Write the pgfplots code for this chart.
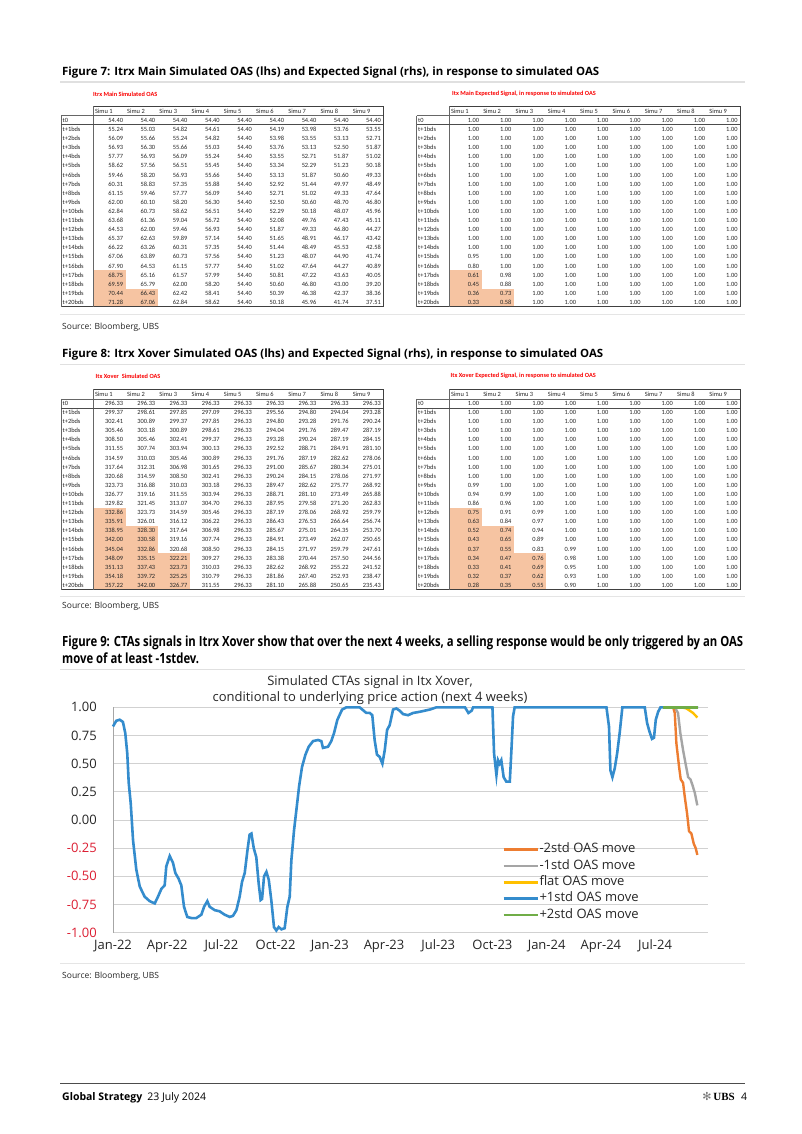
\documentclass[border=0pt]{standalone}
\usepackage{pgfplots}
\pgfplotsset{compat=1.18}
\usepackage{graphicx}
\usepackage{fontspec}
\setmainfont{Open Sans}
\newfontfamily\tabfont{Carlito}
\newfontfamily\symfont{DejaVu Sans}
\newfontfamily\serfont{Liberation Serif}
\definecolor{uBlue}{RGB}{52,140,205}
\definecolor{uOrange}{RGB}{237,125,49}
\definecolor{uGray}{RGB}{165,165,165}
\definecolor{uYellow}{RGB}{255,192,0}
\definecolor{uGreen}{RGB}{112,173,71}
\definecolor{uRed}{RGB}{220,30,50}
\definecolor{hl}{RGB}{246,196,162}
\definecolor{subRed}{RGB}{250,0,0}

\newcounter{rowi}
\tikzset{tabtxt/.style={font=\tabfont\fontsize{6.4}{7}\selectfont, inner sep=0pt, text height=4.3pt, text depth=0pt, text=black!85}}
\newcommand{\trow}[2]{%
  \node[tabtxt, anchor=west] at ({\TLx pt+1.5pt},{-\TTz pt-\therowi*9.1pt}) {#1};%
  \foreach \vv [count=\ci] in {#2} {\node[tabtxt, anchor=east] at ({\TDx pt+\ci*\TCw pt-2.3pt},{-\TTz pt-\therowi*9.1pt}) {\vv};}%
  \stepcounter{rowi}}
\newcommand{\hlcell}[3]{\fill[hl] ({\TDx pt+(#1-1)*\TCw pt},{-\TTz pt-#2*9.1pt+4.55pt}) rectangle ({\TDx pt+#1*\TCw pt},{-\TTz pt-#3*9.1pt-4.55pt});}
\newcommand{\tableframe}{%
  \draw[black!75, line width=1pt] ({\TDx pt},{-\TTz pt+14pt}) -- ({\TDx pt+9*\TCw pt},{-\TTz pt+14pt}) -- ({\TDx pt+9*\TCw pt},{-\TTz pt-186.55pt}) -- ({\TLx pt},{-\TTz pt-186.55pt});
  \draw[black!60, line width=0.5pt] ({\TDx pt},{-\TTz pt+14pt}) -- ({\TDx pt},{-\TTz pt-186.55pt});
  \draw[black!60, line width=0.5pt] ({\TLx pt},{-\TTz pt+4.55pt}) -- ({\TLx pt},{-\TTz pt-186.55pt});
  \draw[black!60, line width=0.5pt] ({\TLx pt},{-\TTz pt+4.55pt}) -- ({\TDx pt+9*\TCw pt},{-\TTz pt+4.55pt});
  \draw[black!70, line width=0.7pt] ({\TLx pt},{-\TTz pt-4.55pt}) -- ({\TDx pt+9*\TCw pt},{-\TTz pt-4.55pt});
  \foreach \ci in {1,...,9} {\node[tabtxt, anchor=west] at ({\TDx pt+(\ci-1)*\TCw pt+1.5pt},{-\TTz pt+9pt}) {Simu \ci};}
  \setcounter{rowi}{0}}

\newlength\tw
\newcommand{\figninea}{Figure 9: CTAs signals in Itrx Xover show that over the next 4 weeks, a selling response would be only triggered by an OAS}

\begin{document}
\settowidth\tw{\fontsize{14}{16}\selectfont\bfseries \figninea}%
\pgfmathsetmacro\sx{681/\tw}%
\begin{tikzpicture}
\fill[white, use as bounding box] (0,0) rectangle (802pt,-1134pt);

% ---------- Figure 7 ----------
\node[anchor=base west, inner sep=0pt] at (62pt,-75.5pt) {\resizebox{537pt}{!}{\bfseries Figure 7: Itrx Main Simulated OAS (lhs) and Expected Signal (rhs), in response to simulated OAS}};
\draw[black!12, line width=1.2pt] (60pt,-82pt) -- (745pt,-82pt);
\node[anchor=west, inner sep=0pt, font=\tabfont\bfseries\fontsize{6.3}{7}\selectfont, text=subRed] at (93pt,-94pt) {Itrx Main Simulated OAS};
\node[anchor=west, inner sep=0pt, font=\tabfont\bfseries\fontsize{6.3}{7}\selectfont, text=subRed] at (452pt,-94pt) {Itx Main Expected Signal, in response to simulated OAS};

\def\TLx{61}\def\TDx{93.3}\def\TCw{32.22}\def\TTz{120.3}
\hlcell{1}{17}{20}\hlcell{2}{19}{20}
\tableframe
\trow{t0}{54.40,54.40,54.40,54.40,54.40,54.40,54.40,54.40,54.40}
\trow{t+1bds}{55.24,55.03,54.82,54.61,54.40,54.19,53.98,53.76,53.55}
\trow{t+2bds}{56.09,55.66,55.24,54.82,54.40,53.98,53.55,53.13,52.71}
\trow{t+3bds}{56.93,56.30,55.66,55.03,54.40,53.76,53.13,52.50,51.87}
\trow{t+4bds}{57.77,56.93,56.09,55.24,54.40,53.55,52.71,51.87,51.02}
\trow{t+5bds}{58.62,57.56,56.51,55.45,54.40,53.34,52.29,51.23,50.18}
\trow{t+6bds}{59.46,58.20,56.93,55.66,54.40,53.13,51.87,50.60,49.33}
\trow{t+7bds}{60.31,58.83,57.35,55.88,54.40,52.92,51.44,49.97,48.49}
\trow{t+8bds}{61.15,59.46,57.77,56.09,54.40,52.71,51.02,49.33,47.64}
\trow{t+9bds}{62.00,60.10,58.20,56.30,54.40,52.50,50.60,48.70,46.80}
\trow{t+10bds}{62.84,60.73,58.62,56.51,54.40,52.29,50.18,48.07,45.96}
\trow{t+11bds}{63.68,61.36,59.04,56.72,54.40,52.08,49.76,47.43,45.11}
\trow{t+12bds}{64.53,62.00,59.46,56.93,54.40,51.87,49.33,46.80,44.27}
\trow{t+13bds}{65.37,62.63,59.89,57.14,54.40,51.65,48.91,46.17,43.42}
\trow{t+14bds}{66.22,63.26,60.31,57.35,54.40,51.44,48.49,45.53,42.58}
\trow{t+15bds}{67.06,63.89,60.73,57.56,54.40,51.23,48.07,44.90,41.74}
\trow{t+16bds}{67.90,64.53,61.15,57.77,54.40,51.02,47.64,44.27,40.89}
\trow{t+17bds}{68.75,65.16,61.57,57.99,54.40,50.81,47.22,43.63,40.05}
\trow{t+18bds}{69.59,65.79,62.00,58.20,54.40,50.60,46.80,43.00,39.20}
\trow{t+19bds}{70.44,66.43,62.42,58.41,54.40,50.39,46.38,42.37,38.36}
\trow{t+20bds}{71.28,67.06,62.84,58.62,54.40,50.18,45.96,41.74,37.51}

\def\TLx{416.5}\def\TDx{449.3}\def\TCw{32.3}\def\TTz{120.3}
\hlcell{1}{17}{20}\hlcell{2}{19}{20}
\tableframe
\trow{t0}{1.00,1.00,1.00,1.00,1.00,1.00,1.00,1.00,1.00}
\trow{t+1bds}{1.00,1.00,1.00,1.00,1.00,1.00,1.00,1.00,1.00}
\trow{t+2bds}{1.00,1.00,1.00,1.00,1.00,1.00,1.00,1.00,1.00}
\trow{t+3bds}{1.00,1.00,1.00,1.00,1.00,1.00,1.00,1.00,1.00}
\trow{t+4bds}{1.00,1.00,1.00,1.00,1.00,1.00,1.00,1.00,1.00}
\trow{t+5bds}{1.00,1.00,1.00,1.00,1.00,1.00,1.00,1.00,1.00}
\trow{t+6bds}{1.00,1.00,1.00,1.00,1.00,1.00,1.00,1.00,1.00}
\trow{t+7bds}{1.00,1.00,1.00,1.00,1.00,1.00,1.00,1.00,1.00}
\trow{t+8bds}{1.00,1.00,1.00,1.00,1.00,1.00,1.00,1.00,1.00}
\trow{t+9bds}{1.00,1.00,1.00,1.00,1.00,1.00,1.00,1.00,1.00}
\trow{t+10bds}{1.00,1.00,1.00,1.00,1.00,1.00,1.00,1.00,1.00}
\trow{t+11bds}{1.00,1.00,1.00,1.00,1.00,1.00,1.00,1.00,1.00}
\trow{t+12bds}{1.00,1.00,1.00,1.00,1.00,1.00,1.00,1.00,1.00}
\trow{t+13bds}{1.00,1.00,1.00,1.00,1.00,1.00,1.00,1.00,1.00}
\trow{t+14bds}{1.00,1.00,1.00,1.00,1.00,1.00,1.00,1.00,1.00}
\trow{t+15bds}{0.95,1.00,1.00,1.00,1.00,1.00,1.00,1.00,1.00}
\trow{t+16bds}{0.80,1.00,1.00,1.00,1.00,1.00,1.00,1.00,1.00}
\trow{t+17bds}{0.61,0.98,1.00,1.00,1.00,1.00,1.00,1.00,1.00}
\trow{t+18bds}{0.45,0.88,1.00,1.00,1.00,1.00,1.00,1.00,1.00}
\trow{t+19bds}{0.36,0.73,1.00,1.00,1.00,1.00,1.00,1.00,1.00}
\trow{t+20bds}{0.33,0.58,1.00,1.00,1.00,1.00,1.00,1.00,1.00}

\draw[black!10, line width=0.8pt] (60pt,-314pt) -- (745pt,-314pt);
\node[anchor=base west, inner sep=0pt, font=\fontsize{8.5}{10}\selectfont, text=black!85] at (62pt,-329pt) {Source: Bloomberg, UBS};

% ---------- Figure 8 ----------
\node[anchor=base west, inner sep=0pt] at (62pt,-357.5pt) {\resizebox{541pt}{!}{\bfseries Figure 8: Itrx Xover Simulated OAS (lhs) and Expected Signal (rhs), in response to simulated OAS}};
\draw[black!12, line width=1.2pt] (60pt,-364.5pt) -- (745pt,-364.5pt);
\node[anchor=west, inner sep=0pt, font=\tabfont\bfseries\fontsize{6.3}{7}\selectfont, text=subRed] at (95.5pt,-376pt) {Itx Xover\ \ Simulated OAS};
\node[anchor=west, inner sep=0pt, font=\tabfont\bfseries\fontsize{6.3}{7}\selectfont, text=subRed] at (450.5pt,-376pt) {Itx Xover Expected Signal, in response to simulated OAS};

\def\TLx{61}\def\TDx{93.3}\def\TCw{32.22}\def\TTz{403.3}
\hlcell{1}{12}{20}\hlcell{2}{14}{20}\hlcell{3}{17}{20}
\tableframe
\trow{t0}{296.33,296.33,296.33,296.33,296.33,296.33,296.33,296.33,296.33}
\trow{t+1bds}{299.37,298.61,297.85,297.09,296.33,295.56,294.80,294.04,293.28}
\trow{t+2bds}{302.41,300.89,299.37,297.85,296.33,294.80,293.28,291.76,290.24}
\trow{t+3bds}{305.46,303.18,300.89,298.61,296.33,294.04,291.76,289.47,287.19}
\trow{t+4bds}{308.50,305.46,302.41,299.37,296.33,293.28,290.24,287.19,284.15}
\trow{t+5bds}{311.55,307.74,303.94,300.13,296.33,292.52,288.71,284.91,281.10}
\trow{t+6bds}{314.59,310.03,305.46,300.89,296.33,291.76,287.19,282.62,278.06}
\trow{t+7bds}{317.64,312.31,306.98,301.65,296.33,291.00,285.67,280.34,275.01}
\trow{t+8bds}{320.68,314.59,308.50,302.41,296.33,290.24,284.15,278.06,271.97}
\trow{t+9bds}{323.73,316.88,310.03,303.18,296.33,289.47,282.62,275.77,268.92}
\trow{t+10bds}{326.77,319.16,311.55,303.94,296.33,288.71,281.10,273.49,265.88}
\trow{t+11bds}{329.82,321.45,313.07,304.70,296.33,287.95,279.58,271.20,262.83}
\trow{t+12bds}{332.86,323.73,314.59,305.46,296.33,287.19,278.06,268.92,259.79}
\trow{t+13bds}{335.91,326.01,316.12,306.22,296.33,286.43,276.53,266.64,256.74}
\trow{t+14bds}{338.95,328.30,317.64,306.98,296.33,285.67,275.01,264.35,253.70}
\trow{t+15bds}{342.00,330.58,319.16,307.74,296.33,284.91,273.49,262.07,250.65}
\trow{t+16bds}{345.04,332.86,320.68,308.50,296.33,284.15,271.97,259.79,247.61}
\trow{t+17bds}{348.09,335.15,322.21,309.27,296.33,283.38,270.44,257.50,244.56}
\trow{t+18bds}{351.13,337.43,323.73,310.03,296.33,282.62,268.92,255.22,241.52}
\trow{t+19bds}{354.18,339.72,325.25,310.79,296.33,281.86,267.40,252.93,238.47}
\trow{t+20bds}{357.22,342.00,326.77,311.55,296.33,281.10,265.88,250.65,235.43}

\def\TLx{416.5}\def\TDx{449.3}\def\TCw{32.3}\def\TTz{403.3}
\hlcell{1}{12}{20}\hlcell{2}{14}{20}\hlcell{3}{17}{20}
\tableframe
\trow{t0}{1.00,1.00,1.00,1.00,1.00,1.00,1.00,1.00,1.00}
\trow{t+1bds}{1.00,1.00,1.00,1.00,1.00,1.00,1.00,1.00,1.00}
\trow{t+2bds}{1.00,1.00,1.00,1.00,1.00,1.00,1.00,1.00,1.00}
\trow{t+3bds}{1.00,1.00,1.00,1.00,1.00,1.00,1.00,1.00,1.00}
\trow{t+4bds}{1.00,1.00,1.00,1.00,1.00,1.00,1.00,1.00,1.00}
\trow{t+5bds}{1.00,1.00,1.00,1.00,1.00,1.00,1.00,1.00,1.00}
\trow{t+6bds}{1.00,1.00,1.00,1.00,1.00,1.00,1.00,1.00,1.00}
\trow{t+7bds}{1.00,1.00,1.00,1.00,1.00,1.00,1.00,1.00,1.00}
\trow{t+8bds}{1.00,1.00,1.00,1.00,1.00,1.00,1.00,1.00,1.00}
\trow{t+9bds}{0.99,1.00,1.00,1.00,1.00,1.00,1.00,1.00,1.00}
\trow{t+10bds}{0.94,0.99,1.00,1.00,1.00,1.00,1.00,1.00,1.00}
\trow{t+11bds}{0.86,0.96,1.00,1.00,1.00,1.00,1.00,1.00,1.00}
\trow{t+12bds}{0.75,0.91,0.99,1.00,1.00,1.00,1.00,1.00,1.00}
\trow{t+13bds}{0.63,0.84,0.97,1.00,1.00,1.00,1.00,1.00,1.00}
\trow{t+14bds}{0.52,0.74,0.94,1.00,1.00,1.00,1.00,1.00,1.00}
\trow{t+15bds}{0.43,0.65,0.89,1.00,1.00,1.00,1.00,1.00,1.00}
\trow{t+16bds}{0.37,0.55,0.83,0.99,1.00,1.00,1.00,1.00,1.00}
\trow{t+17bds}{0.34,0.47,0.76,0.98,1.00,1.00,1.00,1.00,1.00}
\trow{t+18bds}{0.33,0.41,0.69,0.95,1.00,1.00,1.00,1.00,1.00}
\trow{t+19bds}{0.32,0.37,0.62,0.93,1.00,1.00,1.00,1.00,1.00}
\trow{t+20bds}{0.28,0.35,0.55,0.90,1.00,1.00,1.00,1.00,1.00}

\draw[black!10, line width=0.8pt] (60pt,-596.7pt) -- (745pt,-596.7pt);
\node[anchor=base west, inner sep=0pt, font=\fontsize{8.5}{10}\selectfont, text=black!85] at (62pt,-608.5pt) {Source: Bloomberg, UBS};

% ---------- Figure 9 ----------
\node[anchor=base west, inner sep=0pt] at (62pt,-646pt) {\scalebox{\sx}[1]{\fontsize{14}{16}\selectfont\bfseries \figninea}};
\node[anchor=base west, inner sep=0pt] at (62pt,-663pt) {\scalebox{\sx}[1]{\fontsize{14}{16}\selectfont\bfseries move of at least -1stdev.}};
\draw[black!12, line width=1.2pt] (60pt,-669.5pt) -- (745pt,-669.5pt);
\node[font=\fontsize{13}{16}\selectfont, text=black!85, align=center, inner sep=0pt] at (370pt,-690pt) {Simulated CTAs signal in Itx Xover,\\conditional to underlying price action (next 4 weeks)};

\begin{axis}[
  at={(113pt,-932.7pt)}, anchor=south west,
  scale only axis, width=595pt, height=225.4pt,
  xmin=0, xmax=32.93, ymin=-1, ymax=1,
  clip=false,
  axis line style={draw=none},
  major tick length=0pt,
  ytick={-1,-0.75,-0.5,-0.25,0,0.25,0.5,0.75,1},
  yticklabels={\textcolor{uRed}{-1.00},\textcolor{uRed}{-0.75},\textcolor{uRed}{-0.50},\textcolor{uRed}{-0.25},0.00,0.25,0.50,0.75,1.00},
  xtick={0,3,...,30},
  xticklabels={Jan-22,Apr-22,Jul-22,Oct-22,Jan-23,Apr-23,Jul-23,Oct-23,Jan-24,Apr-24,Jul-24},
  ymajorgrids, grid style={draw=black!18, line width=0.8pt},
  tick label style={font=\fontsize{13}{15}\selectfont, text=black!85},
  yticklabel style={anchor=east, inner sep=0pt, xshift=-16pt},
  xticklabel style={anchor=north, inner sep=0pt, yshift=-7pt},
  legend style={at={(0.654,0.40)}, anchor=north west, draw=none, fill=none, inner sep=0pt,
    font=\fontsize{13}{15}\selectfont, text=black!85, row sep=2.6pt,
    nodes={inner sep=0.6pt, text height=9.5pt, text depth=3pt}},
  legend cell align=left,
  legend image code/.code={\draw[#1, line width=2.6pt] (0pt,0pt) -- (34pt,0pt);},
]
\draw[black!35, line width=0.8pt] (axis cs:0,-1) -- (axis cs:0,1);
\addplot[uBlue, line width=2.6pt, forget plot] coordinates {
(0.00,0.83) (0.18,0.88) (0.37,0.89) (0.55,0.87) (0.68,0.77) (0.79,0.59) (0.87,0.33) (0.98,0.15) (1.11,-0.18) (1.29,-0.44) (1.48,-0.59) (1.75,-0.68) (2.03,-0.72) (2.31,-0.74) (2.49,-0.68) (2.68,-0.61) (2.86,-0.58) (2.95,-0.41) (3.14,-0.32) (3.32,-0.38) (3.45,-0.47) (3.63,-0.52) (3.78,-0.58) (3.93,-0.77) (4.11,-0.86) (4.34,-0.87) (4.61,-0.87) (4.89,-0.84) (5.04,-0.77) (5.22,-0.72) (5.35,-0.77) (5.63,-0.80) (5.90,-0.81) (6.18,-0.84) (6.46,-0.86) (6.64,-0.85) (6.83,-0.80) (7.01,-0.68) (7.14,-0.55) (7.29,-0.47) (7.44,-0.27) (7.56,-0.13) (7.66,-0.12) (7.79,-0.25) (7.93,-0.33) (8.06,-0.56) (8.17,-0.71) (8.25,-0.70) (8.36,-0.50) (8.49,-0.46) (8.62,-0.53) (8.76,-0.71) (8.91,-0.95) (9.04,-0.98) (9.17,-0.95) (9.32,-0.97) (9.50,-0.96) (9.65,-0.77) (9.78,-0.68) (9.87,-0.36) (10.02,-0.09) (10.15,0.09) (10.30,0.30) (10.46,0.47) (10.65,0.58) (10.83,0.65) (11.07,0.70) (11.35,0.71) (11.53,0.70) (11.62,0.64) (11.90,0.65) (12.08,0.70) (12.23,0.77) (12.42,0.89) (12.68,0.98) (12.92,1.00) (13.65,1.00) (14.02,0.95) (14.21,0.95) (14.35,0.93) (14.48,0.71) (14.61,0.58) (14.76,0.56) (14.91,0.50) (15.04,0.62) (15.17,0.80) (15.31,0.84) (15.50,0.98) (15.68,0.99) (15.87,0.97) (16.05,0.94) (16.33,0.93) (16.61,0.95) (16.97,0.96) (17.53,0.98) (17.90,1.00) (19.48,1.00) (19.67,0.95) (19.85,0.97) (19.93,1.00) (21.00,1.00) (21.09,0.59) (21.22,0.40) (21.31,0.53) (21.40,0.50) (21.49,0.53) (21.62,0.38) (21.77,0.34) (21.96,0.34) (22.05,0.62) (22.14,0.92) (22.23,1.00) (27.31,1.00) (27.45,0.83) (27.53,0.44) (27.64,0.38) (27.77,0.46) (27.90,0.59) (28.04,0.77) (28.19,1.00) (29.43,1.00) (29.56,0.86) (29.70,0.78) (29.83,0.72) (29.94,0.73) (30.04,0.89) (30.17,0.96) (30.30,1.00) (32.38,1.00)
};
\addplot[uYellow, line width=2.4pt, forget plot] coordinates {(30.44,1.00) (31.46,1.00) (31.73,0.99) (31.92,0.97) (32.10,0.95) (32.34,0.91)};
\addplot[uGray, line width=2.4pt, forget plot] coordinates {(30.44,1.00) (31.09,1.00) (31.27,0.95) (31.40,0.77) (31.55,0.62) (31.70,0.49) (31.83,0.38) (31.96,0.36) (32.07,0.31) (32.20,0.24) (32.34,0.13)};
\addplot[uOrange, line width=2.4pt, forget plot] coordinates {(30.44,1.00) (31.00,1.00) (31.09,0.95) (31.18,0.68) (31.33,0.47) (31.42,0.36) (31.55,0.33) (31.64,0.21) (31.77,0.06) (31.88,-0.10) (32.01,-0.12) (32.14,-0.21) (32.25,-0.25) (32.34,-0.31)};
\addplot[uGreen, line width=2.4pt, forget plot] coordinates {(30.44,1.00) (31.50,1.00) (32.38,1.00)};
\addlegendimage{uOrange}\addlegendentry{-2std OAS move}
\addlegendimage{uGray}\addlegendentry{-1std OAS move}
\addlegendimage{uYellow}\addlegendentry{flat OAS move}
\addlegendimage{uBlue}\addlegendentry{+1std OAS move}
\addlegendimage{uGreen}\addlegendentry{+2std OAS move}
\end{axis}

\draw[black!10, line width=0.8pt] (60pt,-963pt) -- (745pt,-963pt);
\node[anchor=base west, inner sep=0pt, font=\fontsize{8.5}{10}\selectfont, text=black!85] at (62pt,-978pt) {Source: Bloomberg, UBS};

% ---------- Footer ----------
\draw[black!70, line width=0.8pt] (60pt,-1083pt) -- (745pt,-1083pt);
\node[anchor=base west, inner sep=0pt, font=\fontsize{10.5}{12}\selectfont] at (62pt,-1100pt) {\textbf{Global Strategy}\hspace{5pt}23 July 2024};
\node[anchor=base east, inner sep=0pt, font=\fontsize{11}{12}\selectfont] at (735pt,-1100pt) {{\symfont\color{black!55}✻}\,{\serfont\bfseries UBS}};
\node[anchor=base west, inner sep=0pt, font=\fontsize{10.5}{12}\selectfont] at (741pt,-1100pt) {4};
\end{tikzpicture}
\end{document}
